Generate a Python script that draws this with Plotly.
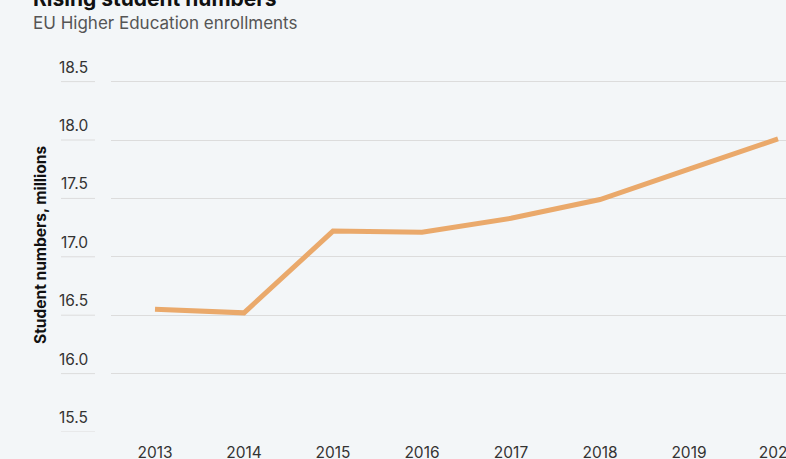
import plotly.graph_objects as go

# EU higher education enrolments, millions of students
years = [2013, 2014, 2015, 2016, 2017, 2018, 2019, 2020]
students = [16.55, 16.52, 17.22, 17.21, 17.33, 17.49, 17.75, 18.01]

y_ticks = [15.5, 16.0, 16.5, 17.0, 17.5, 18.0, 18.5]
y_tick_labels = ["15.5", "16.0", "16.5", "17.0", "17.5", "18.0", "18.5"]

title_text = "Rising student numbers"
subtitle_text = "EU Higher Education enrollments"
y_title_text = "Student numbers, millions"

BG = "#f3f6f8"
GRID = "#dcdcdc"
LINE = "#eaa96b"
FONT = "Inter, Roboto, sans-serif"

W, H = 786, 459
M_L, M_R, M_T, M_B = 111, 0, 59, 27
plot_w = W - M_L - M_R
plot_h = H - M_T - M_B

px_per_year = 89.0
x_min = years[0] - 44 / px_per_year
x_max = x_min + plot_w / px_per_year

px_per_unit = 116.8
y_min = y_ticks[0]
y_max = y_min + plot_h / px_per_unit

fig = go.Figure()
fig.add_trace(go.Scatter(
    x=years, y=students, mode="lines",
    line=dict(color=LINE, width=5),
    hoverinfo="x+y", showlegend=False,
))

# Left-hand tick labels sit on short rules above each gridline
for v, lab in zip(y_ticks, y_tick_labels):
    fig.add_annotation(
        xref="paper", yref="y", x=0, y=v, text=lab, showarrow=False,
        xanchor="right", yanchor="bottom", xshift=-21, yshift=3,
        font=dict(family=FONT, size=15.5, color="#333333"),
    )
    fig.add_shape(
        type="line", xref="paper", yref="y",
        x0=(61 - M_L) / plot_w, x1=(95 - M_L) / plot_w, y0=v, y1=v,
        line=dict(color=GRID, width=1),
    )

fig.add_annotation(
    xref="paper", yref="paper", x=0, y=1, text=f"<b>{title_text}</b>",
    showarrow=False, xanchor="left", yanchor="middle",
    xshift=31 - M_L, yshift=M_T + 2,
    font=dict(family=FONT, size=21, color="#111111"),
)
fig.add_annotation(
    xref="paper", yref="paper", x=0, y=1, text=subtitle_text,
    showarrow=False, xanchor="left", yanchor="middle",
    xshift=31 - M_L, yshift=M_T - 23,
    font=dict(family=FONT, size=17, color="#555555"),
)
fig.add_annotation(
    xref="paper", yref="paper", x=0, y=(H - M_B - 245) / plot_h,
    text=f"<b>{y_title_text}</b>", textangle=-90, showarrow=False,
    xanchor="center", yanchor="middle", xshift=40 - M_L,
    font=dict(family=FONT, size=15.5, color="#111111"),
)

fig.update_layout(
    width=W, height=H,
    margin=dict(l=M_L, r=M_R, t=M_T, b=M_B, autoexpand=False),
    paper_bgcolor=BG, plot_bgcolor=BG,
    font=dict(family=FONT, color="#333333"),
    xaxis=dict(
        range=[x_min, x_max], tickmode="array", tickvals=years,
        ticktext=[str(y) for y in years], showgrid=False, zeroline=False,
        showline=False, ticks="", tickfont=dict(size=15.5, color="#333333"),
        ticklabelstandoff=9, ticklabeloverflow="allow", automargin=False,
    ),
    yaxis=dict(
        range=[y_min, y_max], tickmode="array", tickvals=y_ticks,
        showticklabels=False, showgrid=True, gridcolor=GRID, gridwidth=1,
        zeroline=False, showline=False, ticks="", automargin=False,
    ),
)

fig.write_html("out.html")
